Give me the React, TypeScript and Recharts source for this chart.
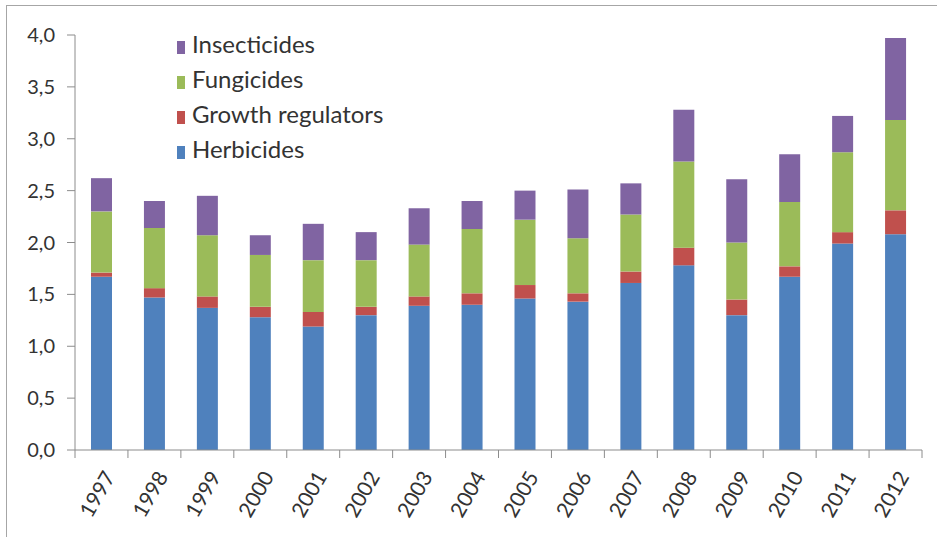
import { BarChart, Bar, XAxis, YAxis } from "recharts";

const years = [
  "1997", "1998", "1999", "2000", "2001", "2002", "2003", "2004",
  "2005", "2006", "2007", "2008", "2009", "2010", "2011", "2012",
];
const herbicides = [1.67, 1.47, 1.37, 1.28, 1.19, 1.3, 1.39, 1.4, 1.46, 1.43, 1.61, 1.78, 1.3, 1.67, 1.99, 2.08];
const growthRegulators = [0.04, 0.09, 0.11, 0.1, 0.14, 0.08, 0.09, 0.11, 0.13, 0.08, 0.11, 0.17, 0.15, 0.1, 0.11, 0.23];
const fungicides = [0.59, 0.58, 0.59, 0.5, 0.5, 0.45, 0.5, 0.62, 0.63, 0.53, 0.55, 0.83, 0.55, 0.62, 0.77, 0.87];
const insecticides = [0.32, 0.26, 0.38, 0.19, 0.35, 0.27, 0.35, 0.27, 0.28, 0.47, 0.3, 0.5, 0.61, 0.46, 0.35, 0.79];
const yTicks = [0, 0.5, 1, 1.5, 2, 2.5, 3, 3.5, 4];

// stacking order, bottom to top
const series = [
  { key: "herb", name: "Herbicides", color: "#4F81BD" },
  { key: "growth", name: "Growth regulators", color: "#C0504D" },
  { key: "fung", name: "Fungicides", color: "#9BBB59" },
  { key: "insect", name: "Insecticides", color: "#8064A2" },
];

const data = years.map((year, i) => ({
  year,
  herb: herbicides[i],
  growth: growthRegulators[i],
  fung: fungicides[i],
  insect: insecticides[i],
}));

const W = 937;
const H = 537;
const LEFT = 75;
const RIGHT = 15;
const BAND = (W - LEFT - RIGHT) / years.length;
const FONT = "Lato, 'Open Sans', sans-serif";
const TEXT = "#333333";
const AXIS = "#8c8c8c";

const fmt = (v: number) => v.toFixed(1).replace(".", ",");

function YearTick(props: any) {
  const { x, y, payload, index } = props;
  return (
    <g>
      <line x1={x - BAND / 2} x2={x - BAND / 2} y1={y - 12} y2={y - 4} stroke={AXIS} />
      {index === years.length - 1 && (
        <line x1={x + BAND / 2} x2={x + BAND / 2} y1={y - 12} y2={y - 4} stroke={AXIS} />
      )}
      <text
        transform={`translate(${x + 8},${y + 11}) rotate(-60)`}
        textAnchor="end"
        dy="0.35em"
        fontSize={21}
        fontFamily={FONT}
        fill={TEXT}
      >
        {payload.value}
      </text>
    </g>
  );
}

function LegendBox() {
  return (
    <div style={{ position: "absolute", left: 177, top: 26, fontFamily: FONT, fontSize: 24, color: TEXT }}>
      {[...series].reverse().map((s) => (
        <div key={s.key} style={{ display: "flex", alignItems: "center", height: 35 }}>
          <span
            style={{
              display: "inline-block",
              width: 8,
              height: 13,
              background: s.color,
              marginRight: 7,
              marginTop: 8,
            }}
          />
          <span>{s.name}</span>
        </div>
      ))}
    </div>
  );
}

export default function App() {
  return (
    <div style={{ position: "absolute", left: 0, top: 0, width: W, height: H, background: "#fff" }}>
      <div style={{ position: "absolute", left: 6, top: 5, width: W, height: 1, background: "#a6a6a6" }} />
      <div style={{ position: "absolute", left: 6, top: 5, width: 1, height: H, background: "#a6a6a6" }} />
      <BarChart
        width={W}
        height={H}
        data={data}
        margin={{ top: 35, right: RIGHT, left: 0, bottom: 7 }}
        barSize={21}
      >
        <XAxis
          dataKey="year"
          interval={0}
          height={80}
          tickSize={8}
          tickMargin={4}
          tickLine={false}
          axisLine={{ stroke: AXIS }}
          tick={<YearTick />}
        />
        <YAxis
          domain={[0, 4]}
          ticks={yTicks}
          width={LEFT}
          tickSize={8}
          tickMargin={12}
          tickFormatter={fmt}
          axisLine={{ stroke: AXIS }}
          tickLine={{ stroke: AXIS }}
          tick={{ fontSize: 20, fontFamily: FONT, fill: TEXT }}
        />
        {series.map((s) => (
          <Bar key={s.key} dataKey={s.key} name={s.name} stackId="a" fill={s.color} isAnimationActive={false} />
        ))}
      </BarChart>
      <LegendBox />
    </div>
  );
}
